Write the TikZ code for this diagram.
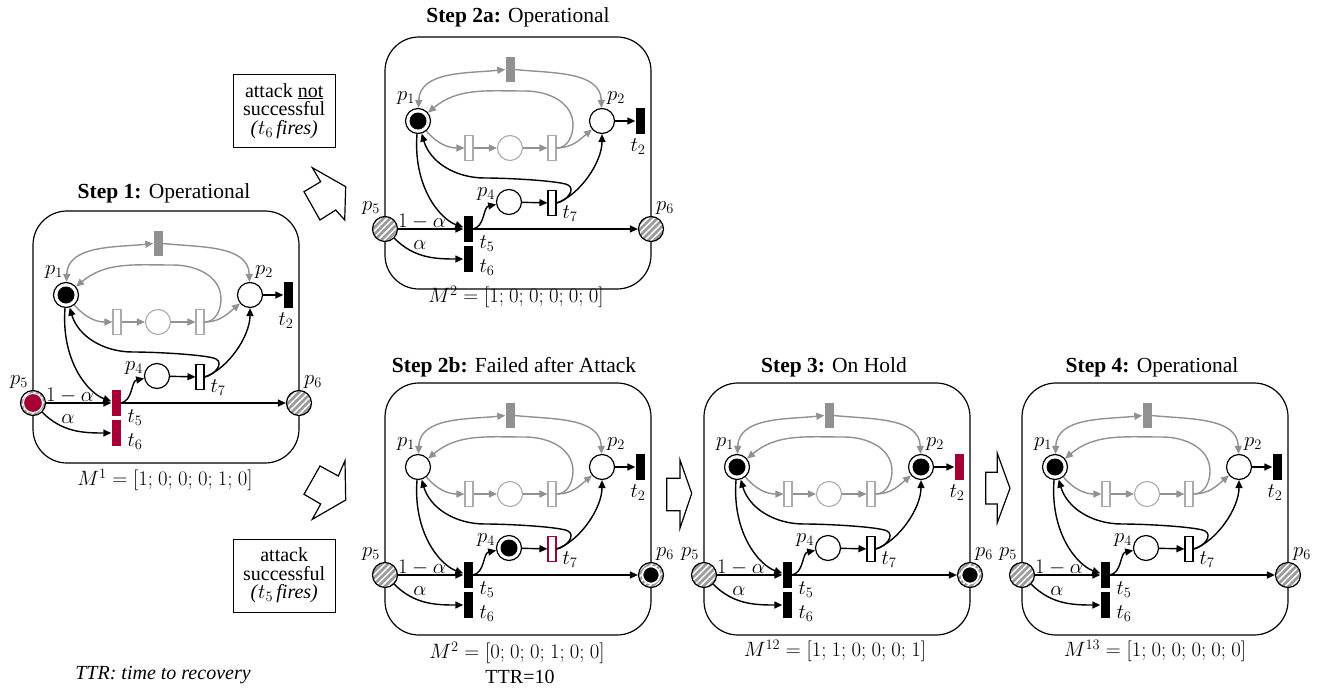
\documentclass[tikz,border=0pt]{standalone}
\usepackage{fontspec}
\setmainfont{Liberation Serif}
\usetikzlibrary{arrows.meta,patterns.meta}

\definecolor{netred}{RGB}{165,0,52}
\definecolor{netgray}{RGB}{145,145,145}
\definecolor{lightnet}{RGB}{170,170,170}
\definecolor{hatchgray}{RGB}{155,155,155}

\tikzset{
  >={Triangle[length=8pt,width=7pt]},
  panelbox/.style={draw, line width=1.2pt, rounded corners=34pt},
  place/.style={circle, draw, line width=1.2pt, minimum size=25pt, inner sep=0pt, fill=white},
  gplace/.style={circle, draw=lightnet, line width=1.1pt, minimum size=25pt, inner sep=0pt, fill=white},
  marked/.style={path picture={\fill[black] (path picture bounding box.center) circle (8.5pt);}},
  hatched/.style={fill=none, preaction={fill=hatchgray},
    pattern={Lines[angle=45,distance=4.5pt,line width=1.5pt]}, pattern color=white},
  hatchtoken/.style={path picture={\filldraw[fill=black,draw=white,line width=1.6pt]
    (path picture bounding box.center) circle (8.5pt);}},
  redtoken/.style={path picture={\filldraw[fill=netred,draw=white,line width=1pt]
    (path picture bounding box.center) circle (9.5pt);}},
  tbar/.style={rectangle, inner sep=0pt, minimum width=9pt, minimum height=26pt},
  tblack/.style={tbar, fill=black},
  tred/.style={tbar, fill=netred},
  twhite/.style={rectangle, draw, fill=white, line width=1.1pt, inner sep=0pt,
    minimum width=8pt, minimum height=25pt},
  tredline/.style={draw=netred},
  tgrayfill/.style={rectangle, fill=netgray, inner sep=0pt, minimum width=9pt, minimum height=25pt},
  tgrayopen/.style={rectangle, draw=lightnet, fill=white, line width=1.1pt, inner sep=0pt,
    minimum width=8pt, minimum height=25pt},
  blackarc/.style={line width=1.4pt, ->},
  grayarc/.style={line width=1.4pt, draw=netgray, ->},
  lbl/.style={font=\fontsize{22}{24}\selectfont, inner sep=0pt},
  wlbl/.style={font=\fontsize{20}{22}\selectfont, inner sep=0pt},
  title/.style={font=\fontsize{21.5}{24}\selectfont, inner sep=0pt},
  marking/.style={font=\fontsize{21}{23}\selectfont, inner sep=0pt},
  msgbox/.style={draw, line width=1pt, align=center, inner sep=0pt,
    minimum width=102pt, minimum height=73pt, font=\fontsize{20}{18.5}\selectfont},
  blockarrow/.style={draw, line width=1.2pt, fill=white, line join=miter},
  % per-panel state (overridden in each scope)
  stPone/.style={}, stPtwo/.style={}, stPfour/.style={}, stPfive/.style={}, stPsix/.style={},
  stTtwo/.style={}, stTfive/.style={}, stTsix/.style={}, stTseven/.style={},
}

% one copy of the net; #1 is a prefix for node names
\newcommand\petrinet[1]{%
  \draw[panelbox] (0,0) rectangle (266,252);
  % places and transitions
  \node[place, stPone] (#1p1) at (33,84) {};
  \node[place, stPtwo] (#1p2) at (217,84) {};
  \node[tblack, stTtwo] (#1t2) at (255,84) {};
  \node[tgrayfill] (#1tg) at (125,32) {};
  \node[tgrayopen] (#1ra) at (84,111) {};
  \node[gplace] (#1pc) at (125,111) {};
  \node[tgrayopen] (#1rb) at (167,111) {};
  \node[place, stPfour] (#1p4) at (124,165) {};
  \node[twhite, stTseven] (#1t7) at (167,166) {};
  \node[place, hatched, stPfive] (#1p5) at (0,192) {};
  \node[place, hatched, stPsix] (#1p6) at (266,192) {};
  \node[tblack, stTfive] (#1t5) at (83,192) {};
  \node[tblack, stTsix] (#1t6) at (83,222) {};
  % labels
  \node[lbl] (#1lp1) at (21,61) {$p_1$};
  \node[lbl] (#1lp2) at (231,61) {$p_2$};
  \node[lbl] (#1lt2) at (253,110) {$t_2$};
  \node[lbl] (#1lp4) at (101,157) {$p_4$};
  \node[lbl] (#1lt7) at (185,177) {$t_7$};
  \node[lbl] (#1lp5) at (-14,171) {$p_5$};
  \node[lbl] (#1lp6) at (280,171) {$p_6$};
  \node[lbl] (#1lt5) at (102,207) {$t_5$};
  \node[lbl] (#1lt6) at (102,231) {$t_6$};
  \node[wlbl] (#1lw1) at (37,185) {$1-\alpha$};
  \node[wlbl] (#1lw2) at (35,208) {$\alpha$};
  % grey sub-net
  \draw[grayarc, <->] (#1p1) to[out=88,in=186] (#1tg);
  \draw[grayarc] (#1tg) to[out=-6,in=92] (#1p2);
  \draw[grayarc] (#1p1) to[out=-50,in=180] (#1ra);
  \draw[grayarc] (#1ra) -- (#1pc);
  \draw[grayarc] (#1pc) -- (#1rb);
  \draw[grayarc] (#1rb) to[out=0,in=-140] (#1p2);
  \draw[grayarc] (#1rb.east) to[out=0,in=-90] (188,88) to[out=90,in=0] (140,54)
    to[out=180,in=40] (#1p1);
  % black arcs
  \draw[blackarc] (#1p2) -- (#1t2);
  \draw[blackarc] (#1p1) .. controls (28,150) and (55,182) .. (#1t5);
  \draw[blackarc] (#1t7.east) .. controls (182,164) and (191,152) .. (183,148)
    .. controls (176,144) and (125,141) .. (100,141)
    .. controls (70,141) and (45,125) .. (#1p1);
  \draw[blackarc] (#1t7.east) .. controls (195,158) and (217,125) .. (#1p2);
  \draw[blackarc] (#1t5.east) .. controls (100,190) and (98,170) .. (#1p4);
  \draw[blackarc] (#1p4) -- (#1t7);
  \draw[blackarc] (#1p5) -- (#1t5);
  \draw[blackarc] (#1p5) to[out=-45,in=180] (#1t6);
  \draw[blackarc] (#1t5) -- (#1p6);
}

\begin{document}
\begin{tikzpicture}[x=1pt,y=-1pt]
\useasboundingbox (0,0) rectangle (1317,688);

% Step 1
\begin{scope}[shift={(33,211)}, stPone/.style={marked}, stPfive/.style={redtoken},
  stTfive/.style={tred}, stTsix/.style={tred}]
  \petrinet{a}
\end{scope}
\node[title] (ta) at (164,193) {\textbf{Step 1:} Operational};
\node[marking] (ma) at (165,480) {$M^1=[1{;}\ 0{;}\ 0{;}\ 0{;}\ 1{;}\ 0]$};

% Step 2a
\begin{scope}[shift={(385,37)}, stPone/.style={marked}]
  \petrinet{b}
\end{scope}
\node[title] (tb) at (518,17) {\textbf{Step 2a:} Operational};
\node[marking] (mb) at (516,297) {$M^2=[1{;}\ 0{;}\ 0{;}\ 0{;}\ 0{;}\ 0]$};

% Step 2b
\begin{scope}[shift={(385,383)}, stPfour/.style={marked}, stTseven/.style={tredline},
  stPsix/.style={hatchtoken}]
  \petrinet{c}
\end{scope}
\node[title] (tc) at (514,367) {\textbf{Step 2b:} Failed after Attack};
\node[marking] (mc) at (517,653) {$M^2=[0{;}\ 0{;}\ 0{;}\ 1{;}\ 0{;}\ 0]$};
\node[marking, font=\fontsize{20}{22}\selectfont] (ttr) at (520,677) {TTR=10};

% Step 3
\begin{scope}[shift={(704,383)}, stPone/.style={marked}, stPtwo/.style={marked},
  stPsix/.style={hatchtoken}, stTtwo/.style={tred}]
  \petrinet{d}
\end{scope}
\node[title] (td) at (834,367) {\textbf{Step 3:} On Hold};
\node[marking] (md) at (835,651) {$M^{12}=[1{;}\ 1{;}\ 0{;}\ 0{;}\ 0{;}\ 1]$};

% Step 4
\begin{scope}[shift={(1022,383)}, stPone/.style={marked}]
  \petrinet{e}
\end{scope}
\node[title] (te) at (1152,367) {\textbf{Step 4:} Operational};
\node[marking] (me) at (1155,651) {$M^{13}=[1{;}\ 0{;}\ 0{;}\ 0{;}\ 0{;}\ 0]$};

% transition notes
\node[msgbox] (notok) at (284.2,110.7) {attack \underline{not}\\successful\\\textit{(}$t_6$\,\textit{fires)}};
\node[msgbox] (isok) at (284.2,575.5) {attack\\successful\\\textit{(}$t_5$\,\textit{fires)}};

% block arrows between steps
\draw[blockarrow] (312.3,167.7) -- (345.7,186.7) -- (344.7,220) -- (335.7,210)
  -- (320,220) -- (304,191.7) -- (320.7,181.7) -- cycle;
\draw[blockarrow] (345,460.7) -- (345.7,500) -- (312.3,519.3) -- (320.7,504)
  -- (304,494.3) -- (320,466) -- (338.3,476) -- cycle;
\draw[blockarrow] (666.7,478.3) -- (680,478.3) -- (680,460) -- (691.7,493.3)
  -- (680,528.3) -- (680,510.7) -- (666.7,510.7) -- cycle;
\draw[blockarrow] (985.7,472.3) -- (997.3,472.3) -- (997.3,453.3) -- (1010,488.3)
  -- (997.3,522.7) -- (997.3,504) -- (985.7,504) -- cycle;

\node[font=\fontsize{20}{22}\selectfont\itshape, inner sep=0pt] (legend) at (163,675) {TTR: time to recovery};
\end{tikzpicture}
\end{document}
